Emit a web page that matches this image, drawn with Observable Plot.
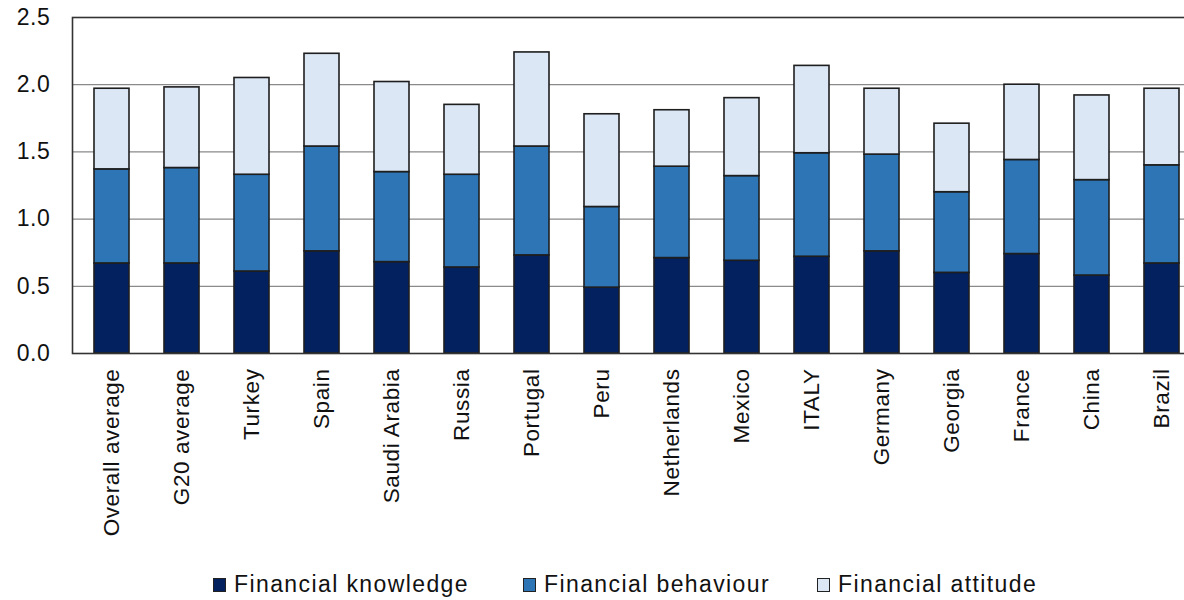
<!DOCTYPE html>
<html>
<head>
<meta charset="utf-8">
<script src="https://cdn.jsdelivr.net/npm/d3@7"></script>
<script src="https://cdn.jsdelivr.net/npm/@observablehq/plot@0.6"></script>
<style>
  html, body { margin: 0; padding: 0; background: white; overflow: hidden; width: 1184px; height: 600px; }
  #chart { position: absolute; left: 0; top: 0; }
  #legend { position: absolute; left: 0; top: 571px; width: 1184px; height: 28px; font-family: "Liberation Sans", Arial, sans-serif; font-size: 23px; letter-spacing: 1.4px; color: #111; }
  .item { position: absolute; top: 0; display: flex; align-items: center; white-space: nowrap; }
  .sw { width: 11px; height: 12px; border: 1.2px solid #222; margin-right: 8px; }
</style>
</head>
<body>
<div id="chart"></div>
<div id="legend"></div>
<script>
const countries = ["Overall average","G20 average","Turkey","Spain","Saudi Arabia","Russia","Portugal","Peru","Netherlands","Mexico","ITALY","Germany","Georgia","France","China","Brazil"];
const knowledge = [0.67,0.67,0.61,0.76,0.68,0.64,0.73,0.49,0.71,0.69,0.72,0.76,0.60,0.74,0.58,0.67];
const behaviour = [0.70,0.71,0.72,0.78,0.67,0.69,0.81,0.60,0.68,0.63,0.77,0.72,0.60,0.70,0.71,0.73];
const attitude  = [0.60,0.60,0.72,0.69,0.67,0.52,0.70,0.69,0.42,0.58,0.65,0.49,0.51,0.56,0.63,0.57];
const seriesNames = ["Financial knowledge","Financial behaviour","Financial attitude"];
const seriesColors = ["#03215f","#2e75b6","#dbe7f5"];
const yTicks = [0,0.5,1,1.5,2,2.5];

const seriesValues = [knowledge, behaviour, attitude];
const data = [];
countries.forEach((c, i) => {
  seriesNames.forEach((s, j) => data.push({country: c, series: s, value: seriesValues[j][i]}));
});

const chart = Plot.plot({
  width: 1201,
  height: 565,
  marginTop: 17,
  marginBottom: 212,
  marginLeft: 72,
  marginRight: 0,
  style: {fontFamily: "Liberation Sans, Arial, sans-serif", fontSize: "23px", color: "#111", maxWidth: "none", overflow: "hidden"},
  x: {domain: countries, padding: 0.5, paddingOuter: 0.25, label: null},
  y: {domain: [0, 2.5], label: null},
  color: {domain: seriesNames, range: seriesColors},
  marks: [
    Plot.ruleY(yTicks.filter(d => d > 0 && d < 2.5), {stroke: "#8a8a8a", strokeWidth: 1.3}),
    Plot.barY(data, {x: "country", y: "value", fill: "series", stroke: "#1e1e1e", strokeWidth: 1.6}),
    Plot.axisY({ticks: yTicks, tickFormat: d3.format(".1f"), tickSize: 0, tickPadding: 22, label: null, fontSize: 23}),
    Plot.axisX({tickSize: 0, tickPadding: 15, tickRotate: -90, label: null, fontSize: 22.5}),
    Plot.frame({stroke: "#333", strokeWidth: 1.6})
  ]
});
chart.querySelectorAll("text").forEach(t => t.setAttribute("letter-spacing", "0.6"));
document.getElementById("chart").appendChild(chart);

const legendLeft = [213, 523, 817];
const legend = document.getElementById("legend");
seriesNames.forEach((s, j) => {
  const it = document.createElement("div");
  it.className = "item";
  it.style.left = legendLeft[j] + "px";
  const sw = document.createElement("span");
  sw.className = "sw";
  sw.style.background = seriesColors[j];
  const tx = document.createElement("span");
  tx.textContent = s;
  it.appendChild(sw); it.appendChild(tx);
  legend.appendChild(it);
});
</script>
</body>
</html>
